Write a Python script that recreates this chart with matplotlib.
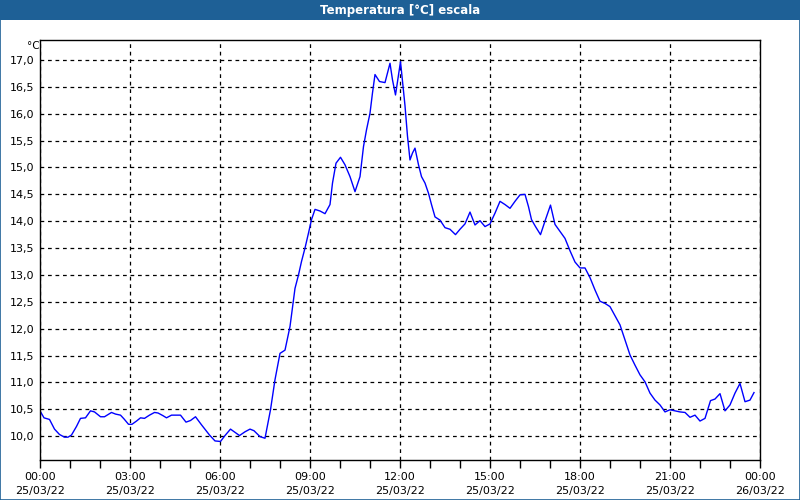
import matplotlib
matplotlib.use("Agg")
import matplotlib.pyplot as plt
from matplotlib.patches import Rectangle
from matplotlib.ticker import MultipleLocator, FuncFormatter

# minutes since 25/03/22 00:00
minutes = [0, 8, 19, 29, 39, 49, 56, 63, 73, 81, 91, 101, 109, 121, 129, 143, 151, 161, 168, 177,
           184, 193, 201, 209, 219, 229, 236, 246, 253, 263, 281, 292, 301, 311, 323, 339, 350, 361,
           370, 381, 390, 399, 410, 420, 428, 440, 450, 461, 470, 480, 490, 500, 507, 510, 517, 523,
           530, 537, 543, 550, 560, 570, 580, 585, 592, 601, 610, 620, 630, 640, 647, 653, 660, 665,
           670, 679, 690, 700, 705, 711, 717, 721, 725, 730, 735, 740, 745, 750, 757, 763, 770, 777,
           783, 790, 800, 810, 820, 831, 840, 850, 860, 870, 880, 890, 900, 910, 920, 930, 940, 950,
           960, 970, 977, 983, 991, 1001, 1011, 1021, 1030, 1040, 1050, 1060, 1070, 1080, 1090, 1100,
           1110, 1120, 1130, 1140, 1150, 1160, 1170, 1180, 1190, 1200, 1210, 1220, 1230, 1240, 1250,
           1260, 1270, 1280, 1290, 1300, 1310, 1320, 1330, 1341, 1350, 1360, 1370, 1380, 1390, 1400,
           1410, 1420, 1428]
temperature = [10.47, 10.34, 10.31, 10.13, 10.03, 9.98, 9.98, 10.02, 10.18, 10.33, 10.34, 10.47, 10.45,
               10.36, 10.36, 10.44, 10.41, 10.39, 10.32, 10.22, 10.22, 10.28, 10.34, 10.33, 10.39, 10.44,
               10.43, 10.38, 10.34, 10.39, 10.39, 10.26, 10.29, 10.36, 10.21, 10.02, 9.91, 9.90, 10.01,
               10.13, 10.07, 10.01, 10.08, 10.13, 10.10, 9.99, 9.96, 10.49, 11.05, 11.54, 11.60, 12.04,
               12.54, 12.75, 13.00, 13.25, 13.50, 13.78, 14.03, 14.22, 14.19, 14.14, 14.31, 14.71, 15.08,
               15.19, 15.05, 14.83, 14.55, 14.83, 15.39, 15.70, 16.01, 16.39, 16.73, 16.60, 16.58, 16.94,
               16.63, 16.35, 16.73, 16.97, 16.60, 16.15, 15.58, 15.14, 15.27, 15.36, 15.05, 14.83, 14.71,
               14.52, 14.31, 14.08, 14.02, 13.88, 13.85, 13.75, 13.85, 13.95, 14.17, 13.93, 14.01, 13.90,
               13.95, 14.15, 14.37, 14.31, 14.24, 14.37, 14.49, 14.50, 14.27, 14.03, 13.90, 13.75, 14.03,
               14.30, 13.94, 13.81, 13.68, 13.45, 13.24, 13.13, 13.13, 12.95, 12.72, 12.51, 12.47, 12.41,
               12.24, 12.07, 11.79, 11.51, 11.32, 11.14, 11.01, 10.80, 10.67, 10.58, 10.45, 10.49, 10.47,
               10.45, 10.44, 10.35, 10.39, 10.28, 10.33, 10.66, 10.69, 10.79, 10.47, 10.58, 10.80, 10.98,
               10.64, 10.67, 10.81]

tick_times = ["00:00", "03:00", "06:00", "09:00", "12:00", "15:00", "18:00", "21:00", "00:00"]
tick_dates = ["25/03/22"] * 8 + ["26/03/22"]
title = "Temperatura [°C] escala"
unit = "°C"

plt.rcParams['font.family'] = ['DejaVu Sans']
fig = plt.figure(figsize=(8, 5), dpi=100, facecolor="white")

# title bar
fig.patches.append(Rectangle((0, 1 - 20 / 500), 1, 20 / 500, transform=fig.transFigure,
                             facecolor="#1e6096", edgecolor="none", zorder=0))
fig.patches.append(Rectangle((0.0006, 0.001), 0.9988, 0.998, transform=fig.transFigure,
                             facecolor="none", edgecolor="#1e6096", linewidth=1.2, zorder=1))
fig.text(0.5, 1 - 10.5 / 500, title, color="white", fontsize=8.5, fontweight="bold",
         ha="center", va="center")

ax = fig.add_axes([40 / 800, 40 / 500, 720 / 800, 420 / 500])
hours = [m / 60 for m in minutes]
ax.plot(hours, temperature, color="#0000ff", linewidth=1.0)

ax.set_xlim(0, 24)
ax.set_ylim(9.555, 17.373)
ax.xaxis.set_major_locator(MultipleLocator(3))
ax.xaxis.set_minor_locator(MultipleLocator(1))
ax.set_xticks(range(0, 25, 3))
ax.set_xticklabels([f"{t}\n{d}" for t, d in zip(tick_times, tick_dates)], fontsize=8,
                   linespacing=1.45)
ax.yaxis.set_major_locator(MultipleLocator(0.5))
ax.yaxis.set_major_formatter(FuncFormatter(lambda v, p: f"{v:.1f}".replace(".", ",")))
ax.tick_params(axis="y", length=0, pad=4, labelsize=8)
ax.tick_params(axis="x", which="both", direction="out", length=6, width=1, pad=3)
ax.grid(True, which="major", color="black", linestyle=(0, (3, 3)), linewidth=0.9)
for s in ax.spines.values():
    s.set_color("black")
    s.set_linewidth(1)

fig.text(33 / 800, 1 - 46 / 500, unit, fontsize=7.5, ha="center", va="center")

fig.savefig("out.png", dpi=100, facecolor="white")
